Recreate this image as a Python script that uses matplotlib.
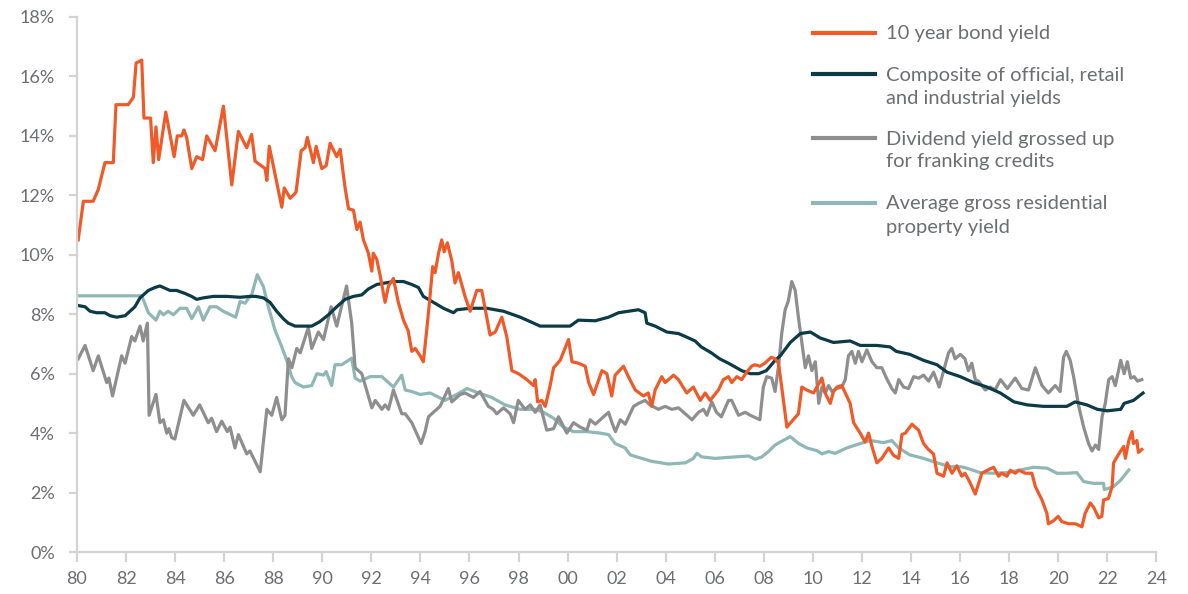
import matplotlib
matplotlib.use("Agg")
import matplotlib.pyplot as plt
from matplotlib.lines import Line2D

plt.rcParams["font.family"] = ["Lato", "DejaVu Sans"]

# 10 year bond yield
bond_years = [
	1980.05, 1980.26, 1980.66, 1980.87, 1981.14, 1981.48, 1981.59, 1982.09, 1982.30, 1982.41,
	1982.64, 1982.73, 1983.00, 1983.11, 1983.22, 1983.33, 1983.62, 1983.96, 1984.09, 1984.27,
	1984.36, 1984.47, 1984.68, 1984.88, 1985.12, 1985.29, 1985.63, 1985.97, 1986.31, 1986.58,
	1986.92, 1987.12, 1987.26, 1987.67, 1987.74, 1987.84, 1988.14, 1988.35, 1988.45, 1988.69,
	1988.93, 1989.14, 1989.30, 1989.39, 1989.64, 1989.75, 1989.98, 1990.16, 1990.32, 1990.59,
	1990.73, 1990.93, 1991.07, 1991.27, 1991.41, 1991.54, 1991.68, 1991.88, 1992.02, 1992.08,
	1992.22, 1992.36, 1992.56, 1992.70, 1992.90, 1993.10, 1993.31, 1993.50, 1993.65, 1993.79,
	1993.99, 1994.12, 1994.25, 1994.37, 1994.50, 1994.60, 1994.74, 1994.87, 1994.97, 1995.10,
	1995.28, 1995.41, 1995.55, 1995.82, 1996.03, 1996.30, 1996.50, 1996.84, 1997.05, 1997.32,
	1997.52, 1997.73, 1998.00, 1998.34, 1998.61, 1998.68, 1998.78, 1998.95, 1999.09, 1999.29,
	1999.43, 1999.70, 2000.04, 2000.18, 2000.45, 2000.72, 2000.86, 2001.06, 2001.40, 2001.60,
	2001.80, 2001.94, 2002.28, 2002.48, 2002.76, 2003.09, 2003.29, 2003.43, 2003.57, 2003.84,
	2003.98, 2004.32, 2004.52, 2004.86, 2005.13, 2005.41, 2005.61, 2005.81, 2006.15, 2006.35,
	2006.56, 2006.69, 2006.90, 2007.10, 2007.30, 2007.50, 2007.63, 2007.84, 2008.04, 2008.30,
	2008.46, 2008.60, 2008.73, 2008.94, 2009.41, 2009.55, 2009.75, 2010.03, 2010.37, 2010.50,
	2010.71, 2010.84, 2010.98, 2011.18, 2011.32, 2011.52, 2011.66, 2011.93, 2012.13, 2012.27,
	2012.41, 2012.61, 2012.81, 2013.09, 2013.29, 2013.50, 2013.63, 2013.77, 2014.04, 2014.31,
	2014.51, 2014.71, 2014.92, 2015.06, 2015.33, 2015.47, 2015.67, 2015.87, 2016.07, 2016.20,
	2016.40, 2016.62, 2016.89, 2017.23, 2017.37, 2017.57, 2017.70, 2017.91, 2018.05, 2018.25,
	2018.40, 2018.66, 2018.93, 2019.07, 2019.34, 2019.54, 2019.60, 2019.81, 2020.00, 2020.15,
	2020.43, 2020.70, 2020.97, 2021.10, 2021.31, 2021.45, 2021.65, 2021.78, 2021.85, 2022.05,
	2022.20, 2022.26, 2022.47, 2022.67, 2022.74, 2022.88, 2023.01, 2023.07, 2023.21, 2023.27,
	2023.41,
]
bond_values = [
	10.5, 11.8, 11.8, 12.2, 13.1, 13.1, 15.05, 15.05, 15.3, 16.45,
	16.55, 14.6, 14.6, 13.1, 14.3, 13.2, 14.8, 13.3, 14.0, 14.0,
	14.2, 13.95, 12.9, 13.3, 13.2, 14.0, 13.5, 15.0, 12.35, 14.15,
	13.6, 14.05, 13.15, 12.9, 12.5, 13.65, 12.45, 11.6, 12.25, 11.9,
	12.1, 13.5, 13.6, 13.95, 13.1, 13.65, 12.9, 13.0, 13.75, 13.3,
	13.55, 12.25, 11.55, 11.5, 10.85, 11.1, 10.5, 10.05, 9.45, 10.05,
	9.85, 9.3, 8.4, 8.95, 9.2, 8.4, 7.8, 7.45, 6.75, 6.85,
	6.6, 6.4, 7.4, 8.4, 9.6, 9.4, 10.05, 10.5, 10.1, 10.4,
	9.8, 9.05, 9.4, 8.6, 8.1, 8.8, 8.8, 7.3, 7.4, 7.9,
	7.25, 6.1, 6.0, 5.8, 5.6, 5.8, 5.05, 5.1, 4.9, 5.6,
	6.2, 6.45, 7.15, 6.4, 6.35, 6.25, 5.7, 5.3, 6.1, 6.0,
	5.25, 5.95, 6.25, 5.9, 5.45, 5.25, 5.35, 4.9, 5.45, 5.9,
	5.7, 5.95, 5.8, 5.35, 5.55, 5.1, 5.35, 5.1, 5.45, 5.8,
	5.9, 5.7, 5.9, 5.8, 6.05, 6.25, 6.3, 6.25, 6.35, 6.55,
	6.5, 6.35, 5.55, 4.2, 4.65, 5.55, 5.45, 5.35, 5.85, 5.35,
	5.0, 5.4, 5.55, 5.6, 5.35, 5.0, 4.35, 4.0, 3.7, 4.0,
	3.55, 3.0, 3.15, 3.5, 3.25, 3.15, 3.95, 4.0, 4.3, 4.1,
	3.65, 3.45, 3.3, 2.65, 2.55, 3.0, 2.65, 2.9, 2.55, 2.65,
	2.35, 1.95, 2.65, 2.8, 2.85, 2.55, 2.65, 2.55, 2.75, 2.65,
	2.75, 2.65, 2.65, 2.2, 1.75, 1.3, 0.95, 1.05, 1.2, 1.02,
	0.95, 0.95, 0.85, 1.3, 1.65, 1.5, 1.15, 1.2, 1.75, 1.8,
	2.2, 3.0, 3.3, 3.55, 3.15, 3.75, 4.05, 3.65, 3.75, 3.35,
	3.45,
]

# Composite of official, retail and industrial yields
composite_years = [
	1980.00, 1980.33, 1980.53, 1980.80, 1981.14, 1981.35, 1981.62, 1981.96, 1982.16, 1982.36,
	1982.57, 1982.91, 1983.18, 1983.38, 1983.52, 1983.79, 1984.06, 1984.40, 1984.67, 1984.88,
	1985.15, 1985.56, 1986.10, 1986.65, 1987.05, 1987.30, 1987.60, 1987.87, 1988.14, 1988.41,
	1988.61, 1988.89, 1989.16, 1989.57, 1989.90, 1990.25, 1990.59, 1990.93, 1991.27, 1991.61,
	1991.88, 1992.22, 1992.56, 1992.90, 1993.31, 1993.65, 1993.92, 1994.12, 1994.53, 1994.94,
	1995.35, 1995.49, 1996.03, 1996.71, 1997.39, 1998.07, 1998.48, 1998.88, 1999.43, 2000.10,
	2000.44, 2001.13, 2001.67, 2002.08, 2002.48, 2002.89, 2003.16, 2003.23, 2003.57, 2004.05,
	2004.52, 2004.80, 2005.20, 2005.45, 2005.86, 2006.20, 2006.56, 2007.10, 2007.45, 2007.79,
	2008.10, 2008.26, 2008.46, 2008.67, 2009.08, 2009.49, 2009.90, 2010.30, 2010.84, 2011.52,
	2011.93, 2012.61, 2013.15, 2013.40, 2013.95, 2014.51, 2015.06, 2015.47, 2016.01, 2016.55,
	2017.10, 2017.64, 2018.20, 2018.74, 2019.40, 2020.35, 2020.69, 2021.17, 2021.60, 2022.00,
	2022.55, 2022.69, 2023.07, 2023.46,
]
composite_values = [
	8.3, 8.25, 8.1, 8.05, 8.05, 7.95, 7.9, 7.95, 8.1, 8.25,
	8.55, 8.8, 8.9, 8.95, 8.9, 8.8, 8.8, 8.7, 8.6, 8.5,
	8.55, 8.6, 8.6, 8.57, 8.6, 8.6, 8.55, 8.4, 8.1, 7.85,
	7.7, 7.6, 7.6, 7.6, 7.75, 7.98, 8.25, 8.5, 8.6, 8.65,
	8.85, 9.0, 9.05, 9.1, 9.1, 9.0, 8.9, 8.6, 8.4, 8.2,
	8.05, 8.15, 8.2, 8.2, 8.1, 7.9, 7.75, 7.6, 7.6, 7.6,
	7.8, 7.78, 7.9, 8.05, 8.1, 8.15, 8.05, 7.7, 7.6, 7.4,
	7.35, 7.25, 7.1, 6.9, 6.7, 6.5, 6.35, 6.1, 6.0, 6.0,
	6.1, 6.25, 6.45, 6.6, 7.05, 7.35, 7.4, 7.2, 7.05, 7.1,
	6.95, 6.95, 6.9, 6.75, 6.65, 6.45, 6.3, 6.05, 5.9, 5.7,
	5.55, 5.35, 5.05, 4.95, 4.9, 4.9, 5.05, 4.95, 4.8, 4.75,
	4.8, 5.0, 5.1, 5.35,
]

# Dividend yield grossed up for franking credits
dividend_years = [
	1980.05, 1980.33, 1980.66, 1980.87, 1981.21, 1981.30, 1981.45, 1981.82, 1981.96, 1982.23,
	1982.36, 1982.57, 1982.70, 1982.87, 1982.94, 1983.22, 1983.38, 1983.52, 1983.66, 1983.75,
	1983.86, 1983.99, 1984.36, 1984.74, 1985.00, 1985.35, 1985.49, 1985.69, 1985.90, 1986.13,
	1986.24, 1986.44, 1986.58, 1986.92, 1987.05, 1987.47, 1987.74, 1987.94, 1988.14, 1988.35,
	1988.48, 1988.62, 1988.76, 1988.96, 1989.10, 1989.43, 1989.57, 1989.84, 1990.05, 1990.36,
	1990.59, 1990.99, 1991.20, 1991.34, 1991.61, 1992.02, 1992.16, 1992.43, 1992.56, 1992.70,
	1992.90, 1993.24, 1993.38, 1993.65, 1994.03, 1994.19, 1994.33, 1994.53, 1994.80, 1995.14,
	1995.28, 1995.62, 1995.82, 1996.16, 1996.43, 1996.77, 1996.97, 1997.11, 1997.39, 1997.66,
	1997.80, 1997.99, 1998.27, 1998.48, 1998.68, 1998.88, 1999.15, 1999.43, 1999.63, 1999.97,
	2000.24, 2000.52, 2000.79, 2000.92, 2001.13, 2001.33, 2001.67, 2001.81, 2001.95, 2002.15,
	2002.35, 2002.69, 2002.89, 2003.16, 2003.36, 2003.70, 2003.98, 2004.25, 2004.52, 2004.80,
	2005.07, 2005.34, 2005.54, 2005.68, 2005.88, 2006.07, 2006.27, 2006.56, 2006.69, 2006.97,
	2007.24, 2007.45, 2007.84, 2007.98, 2008.12, 2008.32, 2008.46, 2008.60, 2008.73, 2008.87,
	2009.00, 2009.14, 2009.28, 2009.41, 2009.55, 2009.69, 2009.82, 2009.96, 2010.10, 2010.24,
	2010.37, 2010.51, 2010.64, 2010.78, 2010.98, 2011.18, 2011.32, 2011.45, 2011.59, 2011.73,
	2011.86, 2012.00, 2012.20, 2012.41, 2012.61, 2012.81, 2013.00, 2013.22, 2013.36, 2013.50,
	2013.70, 2013.90, 2014.11, 2014.31, 2014.51, 2014.72, 2014.92, 2015.15, 2015.33, 2015.53,
	2015.66, 2015.80, 2016.01, 2016.20, 2016.34, 2016.48, 2016.62, 2016.75, 2017.03, 2017.23,
	2017.43, 2017.65, 2017.93, 2018.25, 2018.52, 2018.79, 2019.07, 2019.34, 2019.60, 2019.88,
	2020.08, 2020.22, 2020.33, 2020.49, 2020.63, 2020.84, 2021.04, 2021.24, 2021.38, 2021.52,
	2021.65, 2021.79, 2021.92, 2022.06, 2022.20, 2022.33, 2022.55, 2022.69, 2022.82, 2022.96,
	2023.10, 2023.23, 2023.41,
]
dividend_values = [
	6.5, 6.95, 6.1, 6.6, 5.7, 5.85, 5.25, 6.6, 6.35, 7.25,
	7.1, 7.6, 7.1, 7.7, 4.6, 5.3, 4.35, 4.45, 4.0, 4.15,
	3.85, 3.8, 5.1, 4.6, 4.95, 4.35, 4.5, 4.05, 4.4, 4.05,
	4.2, 3.5, 3.95, 3.3, 3.4, 2.7, 4.8, 4.6, 5.2, 4.45,
	4.6, 6.5, 6.2, 6.85, 6.7, 7.55, 6.85, 7.4, 7.15, 8.25,
	7.6, 8.95, 7.7, 6.2, 6.0, 4.85, 5.1, 4.8, 4.95, 4.8,
	5.45, 4.65, 4.65, 4.35, 3.65, 4.05, 4.55, 4.7, 4.9, 5.5,
	5.05, 5.3, 5.35, 5.2, 5.4, 4.9, 4.8, 4.65, 4.85, 4.65,
	4.35, 5.1, 4.8, 4.95, 4.7, 4.95, 4.1, 4.15, 4.55, 4.0,
	4.35, 4.2, 4.1, 4.45, 4.3, 4.45, 4.7, 4.35, 4.05, 4.45,
	4.3, 4.9, 5.0, 5.1, 4.95, 4.8, 4.9, 4.8, 4.85, 4.65,
	4.45, 4.7, 4.8, 4.6, 5.05, 4.7, 4.55, 5.1, 5.1, 4.6,
	4.7, 4.6, 4.45, 5.55, 5.9, 5.85, 5.4, 6.25, 7.35, 8.15,
	8.45, 9.1, 8.8, 7.9, 7.05, 6.2, 6.6, 6.1, 6.4, 5.0,
	5.55, 5.35, 5.6, 5.4, 5.5, 5.55, 5.8, 6.6, 6.75, 6.35,
	6.75, 6.4, 6.8, 6.4, 6.2, 6.2, 5.85, 5.5, 5.35, 5.8,
	5.55, 5.5, 5.9, 5.85, 5.95, 5.75, 6.05, 5.55, 6.1, 6.7,
	6.85, 6.5, 6.65, 6.5, 6.1, 6.35, 5.8, 5.75, 5.45, 5.55,
	5.45, 5.8, 5.5, 5.85, 5.5, 5.45, 6.2, 5.6, 5.35, 5.6,
	5.4, 6.55, 6.75, 6.45, 5.9, 4.9, 4.2, 3.65, 3.4, 3.6,
	3.45, 4.55, 5.0, 5.8, 5.9, 5.6, 6.45, 6.0, 6.4, 5.85,
	5.9, 5.75, 5.8,
]

# Average gross residential property yield
property_years = [
	1980.00, 1982.64, 1982.91, 1983.22, 1983.38, 1983.52, 1983.72, 1983.93, 1984.20, 1984.47,
	1984.68, 1984.95, 1985.15, 1985.42, 1985.69, 1985.96, 1986.47, 1986.65, 1986.85, 1987.05,
	1987.12, 1987.35, 1987.60, 1987.80, 1988.07, 1988.35, 1988.55, 1988.75, 1988.89, 1989.23,
	1989.57, 1989.78, 1990.05, 1990.16, 1990.38, 1990.52, 1990.79, 1991.20, 1991.34, 1991.54,
	1991.95, 1992.43, 1992.70, 1992.90, 1993.24, 1993.38, 1993.65, 1993.99, 1994.40, 1995.00,
	1995.48, 1995.90, 1996.37, 1996.91, 1997.45, 1998.07, 1998.68, 1999.02, 1999.43, 1999.83,
	2000.24, 2000.79, 2001.33, 2001.67, 2001.94, 2002.35, 2002.55, 2002.82, 2003.43, 2004.11,
	2004.80, 2005.13, 2005.27, 2005.47, 2006.02, 2006.83, 2007.38, 2007.65, 2007.92, 2008.19,
	2008.46, 2008.67, 2009.08, 2009.42, 2009.76, 2010.16, 2010.37, 2010.64, 2010.91, 2011.38,
	2011.93, 2012.34, 2012.88, 2013.22, 2013.50, 2013.95, 2014.51, 2015.06, 2015.60, 2016.01,
	2016.28, 2016.82, 2017.37, 2017.91, 2018.46, 2019.00, 2019.55, 2019.95, 2020.35, 2020.76,
	2021.04, 2021.44, 2021.85, 2021.88, 2022.26, 2022.55, 2022.88,
]
property_values = [
	8.62, 8.62, 8.05, 7.8, 8.1, 7.98, 8.1, 7.98, 8.2, 8.2,
	7.85, 8.25, 7.8, 8.25, 8.25, 8.1, 7.9, 8.43, 8.37, 8.6,
	8.65, 9.33, 8.93, 8.25, 7.47, 6.9, 6.45, 5.9, 5.7, 5.55,
	5.6, 6.0, 5.95, 6.07, 5.6, 6.3, 6.3, 6.52, 5.85, 5.75,
	5.9, 5.9, 5.7, 5.55, 5.95, 5.45, 5.4, 5.3, 5.35, 5.1,
	5.3, 5.5, 5.35, 5.2, 4.95, 4.8, 4.8, 4.7, 4.5, 4.2,
	4.05, 4.05, 4.0, 3.95, 3.65, 3.5, 3.27, 3.2, 3.05, 2.96,
	3.0, 3.15, 3.32, 3.2, 3.15, 3.2, 3.23, 3.12, 3.2, 3.38,
	3.6, 3.7, 3.88, 3.65, 3.5, 3.41, 3.3, 3.38, 3.32, 3.5,
	3.65, 3.75, 3.68, 3.75, 3.5, 3.27, 3.15, 3.0, 2.87, 2.87,
	2.82, 2.67, 2.65, 2.67, 2.76, 2.85, 2.82, 2.65, 2.65, 2.67,
	2.37, 2.31, 2.31, 2.1, 2.2, 2.42, 2.76,
]

series = [
	("10 year bond yield", bond_years, bond_values, "#f05a28"),
	("Composite of official, retail\nand industrial yields", composite_years, composite_values, "#0c3b48"),
	("Dividend yield grossed up\nfor franking credits", dividend_years, dividend_values, "#8e8e8e"),
	("Average gross residential\nproperty yield", property_years, property_values, "#8fb7b5"),
]

x_ticks = list(range(1980, 2025, 2))
x_tick_labels = [f"{year % 100:02d}" for year in x_ticks]
y_ticks = list(range(0, 19, 2))
y_tick_labels = [f"{value}%" for value in y_ticks]

text_color = "#6d6e71"
axis_color = "#d3d3d3"

fig = plt.figure(figsize=(11.88, 5.94), dpi=100)
ax = fig.add_axes([0.0648, 0.0707, 0.9085, 0.9007])

# draw back to front like the original
for label, years, values, color in reversed(series):
	ax.plot(years, values, color=color, linewidth=2.3, solid_joinstyle="round")

ax.set_xlim(1980, 2024)
ax.set_ylim(0, 18)
ax.set_xticks(x_ticks)
ax.set_xticklabels(x_tick_labels)
ax.set_yticks(y_ticks)
ax.set_yticklabels(y_tick_labels)

for side in ["top", "right"]:
	ax.spines[side].set_visible(False)
for side in ["left", "bottom"]:
	ax.spines[side].set_color(axis_color)
	ax.spines[side].set_linewidth(1.6)

ax.tick_params(axis="both", colors=axis_color, width=1.6, labelcolor=text_color, labelsize=13)
ax.tick_params(axis="x", length=7, pad=7)
ax.tick_params(axis="y", length=6, pad=10)

# legend drawn by hand: handle sits level with the first line of each label
legend_rows_px = [33, 74, 138, 203]
line_gap_px = 23
fig_h_px = 594
for (label, _, _, color), row_px in zip(series, legend_rows_px):
	y = 1 - row_px / fig_h_px
	fig.add_artist(Line2D([0.6843, 0.7365], [y, y], color=color, linewidth=3, transform=fig.transFigure))
	for i, part in enumerate(label.split("\n")):
		baseline_px = row_px + 6.5 + i * line_gap_px
		fig.text(0.7458, 1 - baseline_px / fig_h_px, part, color=text_color, fontsize=14.5,
			va="baseline", ha="left")

fig.savefig("out.png", dpi=100)
